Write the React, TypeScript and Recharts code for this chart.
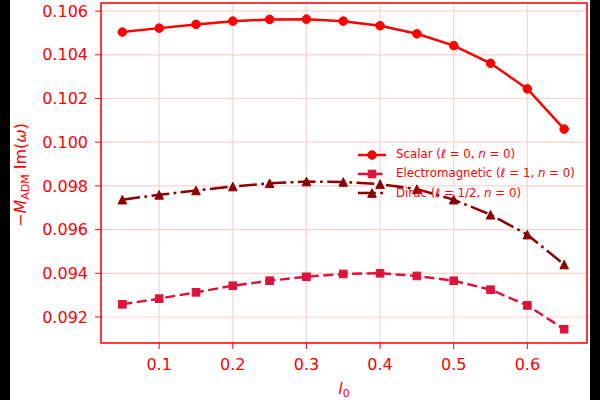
import React from 'react';
import { LineChart, Line, XAxis, YAxis, CartesianGrid, Legend, ReferenceArea } from 'recharts';

const l0 = [0.05, 0.1, 0.15, 0.2, 0.25, 0.3, 0.35, 0.4, 0.45, 0.5, 0.55, 0.6, 0.65];
const scalar = [0.10504, 0.10522, 0.10539, 0.10554, 0.10562, 0.10563, 0.10554, 0.10533, 0.10496, 0.10442, 0.10361, 0.10244, 0.1006];
const electromagnetic = [0.09258, 0.09284, 0.09313, 0.09343, 0.09366, 0.09384, 0.09397, 0.094, 0.09388, 0.09366, 0.09325, 0.09253, 0.09144];
const dirac = [0.09737, 0.09759, 0.09779, 0.09797, 0.09812, 0.0982, 0.09818, 0.09808, 0.09785, 0.09737, 0.09668, 0.09577, 0.0944];

const xTicks = [0.1, 0.2, 0.3, 0.4, 0.5, 0.6];
const yTicks = [0.092, 0.094, 0.096, 0.098, 0.1, 0.102, 0.104, 0.106];
const xDomain: [number, number] = [0.021, 0.681];
const yDomain: [number, number] = [0.09081, 0.10637];

const RED = '#ff0000';
const EM = '#dc143c';
const DIRAC = '#8b0000';
const GRID = '#ffd2d2';
const FONT = '"DejaVu Sans", sans-serif';

const data = l0.map((x, i) => ({ x, scalar: scalar[i], em: electromagnetic[i], dirac: dirac[i] }));

function circleAt(cx: number, cy: number, color: string) {
  return <circle cx={cx} cy={cy} r={4.3} fill={color} stroke={color} strokeWidth={1} />;
}
function squareAt(cx: number, cy: number, color: string) {
  return <rect x={cx - 3.8} y={cy - 3.8} width={7.6} height={7.6} fill={color} stroke={color} strokeWidth={1} />;
}
function triangleAt(cx: number, cy: number, color: string) {
  return (
    <polygon
      points={`${cx},${cy - 4.3} ${cx - 4.3},${cy + 4.3} ${cx + 4.3},${cy + 4.3}`}
      fill={color}
      stroke={color}
      strokeWidth={1}
    />
  );
}

const makeDot = (shape: (cx: number, cy: number, c: string) => React.ReactElement, color: string) =>
  (props: any) => {
    const { cx, cy } = props;
    if (cx == null || cy == null) return <g key={`n-${props.index}`} />;
    return <g key={`d-${props.index}`}>{shape(cx, cy, color)}</g>;
  };

const series = [
  { name: 'Scalar', ell: '0', color: RED, dash: undefined as string | undefined, shape: circleAt },
  { name: 'Electromagnetic', ell: '1', color: EM, dash: '10 4.5', shape: squareAt },
  { name: 'Dirac', ell: '1/2', color: DIRAC, dash: '17.8 4.4 2.8 4.4', shape: triangleAt },
];

function LegendBox() {
  return (
    <div style={{ fontFamily: FONT, fontSize: 11.8, color: RED, lineHeight: '19px' }}>
      {series.map((s) => (
        <div key={s.name} style={{ display: 'flex', alignItems: 'center', height: 19.3 }}>
          <svg width={28} height={14} style={{ marginRight: 10 }}>
            <line x1={0} y1={7} x2={28} y2={7} stroke={s.color} strokeWidth={2.5} strokeDasharray={s.dash} />
            {s.shape(14, 7, s.color)}
          </svg>
          <span style={{ whiteSpace: 'nowrap' }}>
            {s.name} (<i>ℓ</i> = {s.ell}, <i>n</i> = 0)
          </span>
        </div>
      ))}
    </div>
  );
}

function YLabel(props: any) {
  const vb = props.viewBox || { y: 3, height: 340 };
  const cy = vb.y + vb.height / 2 + 2;
  const x = 16;
  return (
    <text
      x={x}
      y={cy}
      transform={`rotate(-90 ${x} ${cy})`}
      textAnchor="middle"
      fill={RED}
      fontFamily={FONT}
      fontSize={16}
    >
      −<tspan fontStyle="italic">M</tspan>
      <tspan fontSize={11} dy={3}>ADM</tspan>
      <tspan dy={-3}> Im(</tspan>
      <tspan fontStyle="italic">ω</tspan>)
    </text>
  );
}

function XLabel(props: any) {
  const vb = props.viewBox || { x: 91, width: 486 };
  const cx = vb.x + vb.width / 2;
  return (
    <text x={cx} y={394} textAnchor="middle" fill={RED} fontFamily={FONT} fontSize={16}>
      <tspan fontStyle="italic">l</tspan>
      <tspan fontSize={11} dy={3}>0</tspan>
    </text>
  );
}

export default function App() {
  return (
    <div style={{ position: 'absolute', left: 0, top: 0, width: 600, height: 400, background: '#000' }}>
      <div style={{ position: 'absolute', left: 10, top: 0, width: 580, height: 400, background: '#fff' }}>
        <LineChart width={580} height={400} data={data} margin={{ top: 3, right: 3, bottom: 0, left: 0 }}>
          <CartesianGrid stroke={GRID} strokeWidth={1.2} />
          <XAxis
            dataKey="x"
            type="number"
            domain={xDomain}
            ticks={xTicks}
            allowDataOverflow
            height={57}
            axisLine={false}
            tickLine={{ stroke: RED }}
            tickSize={6}
            tickMargin={10}
            tick={{ fill: RED, fontSize: 16, fontFamily: FONT }}
            label={<XLabel />}
          />
          <YAxis
            type="number"
            domain={yDomain}
            ticks={yTicks}
            allowDataOverflow
            width={91}
            axisLine={false}
            tickLine={{ stroke: RED }}
            tickSize={6}
            tickMargin={7}
            tickFormatter={(v: number) => v.toFixed(3)}
            tick={{ fill: RED, fontSize: 16, fontFamily: FONT }}
            label={<YLabel />}
          />
          <ReferenceArea
            x1={xDomain[0]}
            x2={xDomain[1]}
            y1={yDomain[0]}
            y2={yDomain[1]}
            fill="none"
            fillOpacity={0}
            stroke={RED}
            strokeWidth={1.5}
            strokeOpacity={1}
          />
          <Legend
            layout="horizontal"
            verticalAlign="middle"
            align="center"
            content={() => <LegendBox />}
            wrapperStyle={{ position: 'absolute', left: 348, top: 145, width: 'auto' }}
          />
          <Line
            dataKey="scalar"
            stroke={RED}
            strokeWidth={2.5}
            dot={makeDot(circleAt, RED)}
            activeDot={false}
            isAnimationActive={false}
          />
          <Line
            dataKey="em"
            stroke={EM}
            strokeWidth={2.5}
            strokeDasharray="10 4.5"
            dot={makeDot(squareAt, EM)}
            activeDot={false}
            isAnimationActive={false}
          />
          <Line
            dataKey="dirac"
            stroke={DIRAC}
            strokeWidth={2.5}
            strokeDasharray="17.8 4.4 2.8 4.4"
            dot={makeDot(triangleAt, DIRAC)}
            activeDot={false}
            isAnimationActive={false}
          />
        </LineChart>
      </div>
    </div>
  );
}
